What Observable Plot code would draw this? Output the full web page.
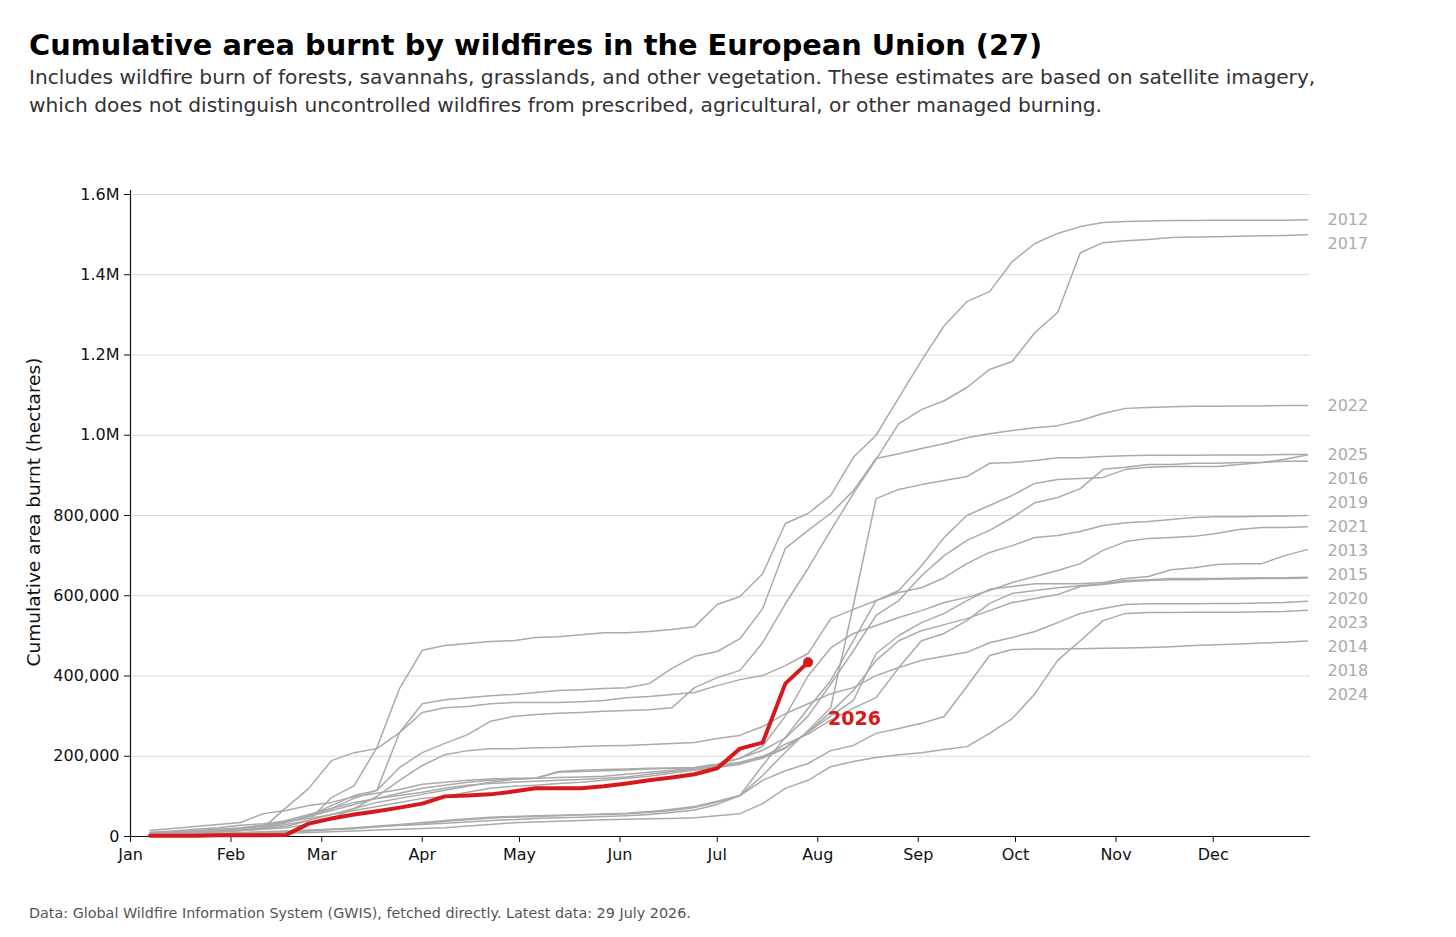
<!DOCTYPE html>
<html>
<head>
<meta charset="utf-8">
<script src="https://cdn.jsdelivr.net/npm/d3@7"></script>
<script src="https://cdn.jsdelivr.net/npm/@observablehq/plot@0.6"></script>
<style>
  html, body { margin: 0; padding: 0; background: #fff; }
  body { width: 1456px; height: 937px; position: relative; font-family: "DejaVu Sans", sans-serif; overflow: hidden; }
  #title { position: absolute; left: 29px; top: 31px; font-size: 28.8px; line-height: 1; font-weight: bold; color: #000; white-space: nowrap; }
  #subtitle { position: absolute; left: 29px; top: 63px; font-size: 20.2px; line-height: 28px; color: #333; width: 1420px; white-space: nowrap; }
  #chart { position: absolute; left: 0; top: 150px; }
  #ylabel { position: absolute; left: 33px; top: 512px; transform: translate(-50%, -50%) rotate(-90deg); font-size: 18.5px; color: #111; white-space: nowrap; }
  #footer { position: absolute; left: 29px; top: 906px; font-size: 14.35px; line-height: 1; color: #555; white-space: nowrap; }
</style>
</head>
<body>
<div id="title">Cumulative area burnt by wildfires in the European Union (27)</div>
<div id="subtitle">Includes wildfire burn of forests, savannahs, grasslands, and other vegetation. These estimates are based on satellite imagery,<br>which does not distinguish uncontrolled wildfires from prescribed, agricultural, or other managed burning.</div>
<div id="ylabel">Cumulative area burnt (hectares)</div>
<div id="chart"></div>
<div id="footer">Data: Global Wildfire Information System (GWIS), fetched directly. Latest data: 29 July 2026.</div>
<script>
// Weekly cumulative burnt area, thousands of hectares (weeks ending Jan 7, Jan 14, ... Dec 30)
const y2012 = [8,10,12,14,16,20,25,40,97,127,222,369, 464,476,481,486,488,496,498,503,508,508,511,516, 523,578,598,655,780,805,850,945,1000,1094,1186,1273, 1333,1358,1433,1478,1503,1520,1530,1533,1534,1535,1535,1536,1536,1536,1536,1537];
const y2013 = [15,20,25,30,35,57,65,77,85,99,108,117, 130,135,140,143,145,146,160,162,164,166,168,170, 172,180,195,225,300,400,470,506,526,546,563,583, 596,613,633,648,663,680,713,735,743,745,748,755,765,770,770,772];
const y2014 = [5,8,10,12,15,18,22,30,45,70,100,140, 177,204,214,219,219,221,222,224,226,227,229,232, 234,244,252,274,306,331,356,371,401,421,439,449, 459,483,496,511,533,556,568,578,580,580,580,581,581,582,583,586];
const y2015 = [5,8,12,16,20,25,35,50,65,80,95,108, 120,128,135,140,143,145,147,148,150,155,160,165, 170,178,185,200,222,260,300,339,456,501,533,556, 588,616,623,630,630,630,633,643,648,665,670,678,680,680,700,715];
const y2016 = [3,4,5,6,8,10,12,15,18,22,26,30, 35,40,44,48,50,52,53,54,55,57,60,65, 72,85,102,177,247,319,389,488,588,613,675,745, 800,825,850,880,890,892,895,915,920,922,922,922,927,932,940,951];
const y2017 = [10,12,15,18,22,28,35,52,77,102,115,172, 209,232,254,287,299,304,307,309,312,314,316,321, 371,396,414,483,580,668,763,855,940,1029,1064,1086, 1119,1164,1184,1256,1306,1455,1480,1485,1488,1493,1494,1495,1496,1497,1498,1500];
const y2018 = [2,3,4,5,6,7,8,10,12,14,16,18, 20,22,26,30,34,36,38,40,42,43,44,45, 47,52,57,82,120,140,174,187,197,204,209,217, 224,257,294,356,439,488,538,556,558,558,559,559,559,560,561,564];
const y2019 = [3,5,8,12,15,20,30,40,55,70,85,95, 105,115,125,135,142,145,162,165,167,168,170,171, 172,180,195,215,245,300,380,463,551,588,650,700, 738,763,795,832,845,867,915,920,927,927,930,930,932,932,935,935];
const y2020 = [10,14,18,22,28,32,38,45,55,65,75,85, 95,100,110,120,125,128,132,135,140,145,150,158, 165,172,180,197,230,255,290,320,346,421,488,506, 538,581,606,613,620,625,630,638,640,643,643,643,644,645,645,646];
const y2021 = [3,5,8,12,16,22,72,120,189,209,219,259, 309,321,324,331,334,334,334,336,339,346,349,354, 359,376,391,401,426,456,543,566,588,608,620,645, 680,708,725,745,750,760,775,782,785,790,795,797,797,798,799,800];
const y2022 = [5,8,10,12,15,20,35,50,70,95,115,259, 331,341,346,351,354,359,364,366,369,371,381,419, 449,461,493,568,718,763,805,862,942,954,967,979, 994,1004,1012,1019,1024,1037,1054,1067,1069,1071,1072,1072,1073,1073,1074,1074];
const y2023 = [4,6,10,15,20,28,40,55,70,85,95,102, 110,120,128,132,135,138,140,142,145,148,155,162, 168,175,182,195,220,260,310,364,439,488,513,528, 543,563,583,593,603,623,628,635,638,640,640,641,642,643,643,644];
const y2024 = [2,3,4,5,7,9,11,14,17,20,24,28, 32,38,42,46,48,50,52,54,56,58,62,68, 75,88,102,140,164,182,214,227,257,269,282,299, 374,451,466,467,467,468,469,470,471,473,476,478,480,482,484,487];
const y2025 = [4,5,6,8,10,12,14,16,18,20,24,28, 30,33,36,40,42,45,47,48,50,52,55,60, 66,80,102,152,210,264,321,577,842,865,877,887, 897,930,932,937,944,944,947,949,950,950,950,951,951,951,952,952];
// Current year, up to 29 July
const y2026 = [2,2,2,3,3,3,4,32,45,55,63,72, 82,100,102,105,112,120,120,120,125,132,140,147, 155,170,219,234,381,434];

const pastYears = ["2012","2013","2014","2015","2016","2017","2018","2019","2020","2021","2022","2023","2024","2025"];
const pastSeries = [y2012,y2013,y2014,y2015,y2016,y2017,y2018,y2019,y2020,y2021,y2022,y2023,y2024,y2025];
const currentYear = "2026";
const yTicks = [0,200000,400000,600000,800000,1000000,1200000,1400000,1600000];
const monthLabels = ["Jan","Feb","Mar","Apr","May","Jun","Jul","Aug","Sep","Oct","Nov","Dec"];

const weeks = d3.range(52).map(i => new Date(Date.UTC(2026, 0, 7 + 7 * i)));
const monthTicks = d3.range(12).map(m => new Date(Date.UTC(2026, m, 1)));
const xStart = new Date(Date.UTC(2026, 0, 1));
const xEnd = new Date(Date.UTC(2026, 11, 31));

const pastRows = [];
pastYears.forEach((yr, k) => pastSeries[k].forEach((v, i) => pastRows.push({year: yr, date: weeks[i], value: v * 1000})));
const curRows = y2026.map((v, i) => ({year: currentYear, date: weeks[i], value: v * 1000}));
const last = curRows[curRows.length - 1];

const yMax = 1610000;
const H = 740, mTop = 40, mBottom = 54;
const plotH = H - mTop - mBottom;
// dodge end labels so they keep at least 24px apart
const gap = 24 * yMax / plotH;
const finals = pastYears.map((yr, k) => ({year: yr, value: pastSeries[k][pastSeries[k].length - 1] * 1000}))
  .sort((a, b) => b.value - a.value);
let prev = Infinity;
const endLabels = finals.map(d => { const v = Math.min(d.value, prev - gap); prev = v; return {year: d.year, value: v}; });

const fmtY = v => v >= 1000000 ? (v / 1e6).toFixed(1) + "M" : d3.format(",")(v);
const red = "#d7191c";

const chart = Plot.plot({
  width: 1456,
  height: H,
  marginLeft: 130,
  marginRight: 146,
  marginTop: mTop,
  marginBottom: mBottom,
  style: {fontFamily: "DejaVu Sans", fontSize: "16px", background: "transparent", overflow: "visible", color: "#111"},
  x: {type: "utc", domain: [xStart, xEnd]},
  y: {domain: [0, yMax]},
  marks: [
    Plot.gridY(yTicks, {stroke: "#d9d9d9", strokeOpacity: 1, strokeWidth: 1}),
    Plot.axisY(yTicks, {tickFormat: fmtY, tickSize: 6, tickPadding: 5, label: null, fontSize: 16}),
    Plot.axisX(monthTicks, {tickFormat: d => monthLabels[d.getUTCMonth()], tickSize: 6, tickPadding: 6, label: null, fontSize: 16}),
    Plot.line(pastRows, {x: "date", y: "value", z: "year", stroke: "#aaaaaa", strokeWidth: 1.5}),
    Plot.ruleX([xStart], {stroke: "#111", strokeWidth: 1.2}),
    Plot.ruleY([0], {stroke: "#111", strokeWidth: 1.2}),
    Plot.line(curRows, {x: "date", y: "value", stroke: red, strokeWidth: 4, strokeLinejoin: "round", strokeLinecap: "round"}),
    Plot.dot([last], {x: "date", y: "value", r: 5, fill: red}),
    Plot.text([last], {x: "date", y: "value", text: d => d.year, dx: 20, dy: 57, textAnchor: "start", fill: red, fontWeight: "bold", fontSize: 19}),
    Plot.text(endLabels, {x: () => xEnd, y: "value", text: "year", dx: 17, textAnchor: "start", fill: "#aaaaaa", fontSize: 16})
  ]
});
document.getElementById("chart").appendChild(chart);
</script>
</body>
</html>
